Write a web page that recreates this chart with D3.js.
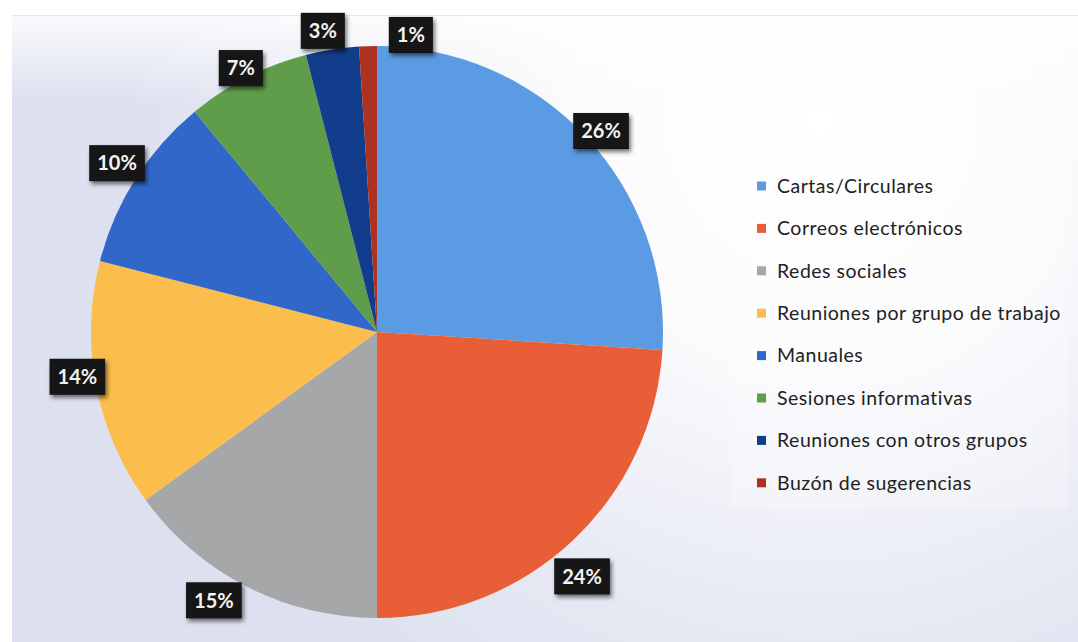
<!DOCTYPE html>
<html>
<head>
<meta charset="utf-8">
<script src="https://cdn.jsdelivr.net/npm/d3@7"></script>
<style>
  html, body { margin: 0; padding: 0; background: #ffffff; }
  svg { display: block; }
</style>
</head>
<body>
<svg id="chart" width="1078" height="642"></svg>
<script>
// Canales de comunicación (porcentaje de uso)
const categories = [
  "Cartas/Circulares",
  "Correos electrónicos",
  "Redes sociales",
  "Reuniones por grupo de trabajo",
  "Manuales",
  "Sesiones informativas",
  "Reuniones con otros grupos",
  "Buzón de sugerencias"
];
const values = [26, 24, 15, 14, 10, 7, 3, 1];
const colors = ["#5b9be3", "#e85f37", "#a5a7a9", "#fbbd4c", "#3067c8", "#5f9d4b", "#123c8c", "#ad3320"];

// Placement of each data label around its slice: angular nudge (degrees) and distance from centre
const labelAngleShift = [1.3, 3.2, 4.3, 2.3, 0.6, -0.3, -1.2, 8.3];
const labelDistance = [301, 319, 314, 303, 310, 297, 306, 299];

const W = 1078, H = 642;
const cx = 377, cy = 332, R = 286;

const svg = d3.select("#chart");
const defs = svg.append("defs");

// Panel background: lavender grey brightening towards the upper right
const bg = defs.append("radialGradient").attr("id", "panelGlow")
  .attr("gradientUnits", "userSpaceOnUse")
  .attr("cx", 820).attr("cy", 120).attr("r", 700);
bg.append("stop").attr("offset", "0%").attr("stop-color", "#ffffff");
bg.append("stop").attr("offset", "35%").attr("stop-color", "#fbfbfd");
bg.append("stop").attr("offset", "75%").attr("stop-color", "#e6e8f3");
bg.append("stop").attr("offset", "100%").attr("stop-color", "#dce0ef");

const topBand = defs.append("linearGradient").attr("id", "topBand")
  .attr("x1", 0).attr("y1", 0).attr("x2", 0).attr("y2", 1);
topBand.append("stop").attr("offset", "0%").attr("stop-color", "#ffffff").attr("stop-opacity", 0.85);
topBand.append("stop").attr("offset", "100%").attr("stop-color", "#ffffff").attr("stop-opacity", 0);

const shadow = defs.append("filter").attr("id", "labelShadow")
  .attr("x", "-30%").attr("y", "-30%").attr("width", "170%").attr("height", "170%");
shadow.append("feDropShadow").attr("dx", 2).attr("dy", 3)
  .attr("stdDeviation", 2).attr("flood-color", "#000").attr("flood-opacity", 0.55);

svg.append("rect").attr("x", 0).attr("y", 0).attr("width", W).attr("height", H).attr("fill", "#ffffff");
svg.append("rect").attr("x", 12).attr("y", 15).attr("width", W - 12).attr("height", H - 15)
  .attr("fill", "url(#panelGlow)");
svg.append("rect").attr("x", 12).attr("y", 15).attr("width", W - 12).attr("height", 90)
  .attr("fill", "url(#topBand)");
svg.append("line").attr("x1", 12).attr("x2", W).attr("y1", 15.5).attr("y2", 15.5)
  .attr("stroke", "#e6e7ec").attr("stroke-width", 1);

// Pie
const pie = d3.pie().sort(null).value(d => d.value);
const arcs = pie(categories.map((c, i) => ({ name: c, value: values[i], color: colors[i], i })));
const arc = d3.arc().innerRadius(0).outerRadius(R);

const g = svg.append("g").attr("transform", `translate(${cx},${cy})`);
g.selectAll("path.slice")
  .data(arcs)
  .join("path")
  .attr("class", "slice")
  .attr("d", arc)
  .attr("fill", d => d.data.color);

// Data labels: white bold percentages in black boxes
const total = d3.sum(values);
const labels = g.selectAll("g.lbl")
  .data(arcs)
  .join("g")
  .attr("class", "lbl")
  .attr("transform", d => {
    const mid = (d.startAngle + d.endAngle) / 2 + labelAngleShift[d.data.i] * Math.PI / 180;
    const r = labelDistance[d.data.i];
    return `translate(${r * Math.sin(mid)},${-r * Math.cos(mid)})`;
  });

labels.append("rect").attr("class", "box").attr("fill", "#121212")
  .attr("filter", "url(#labelShadow)");
labels.append("text")
  .attr("text-anchor", "middle")
  .attr("dy", "0.36em")
  .attr("font-family", "Lato, 'Open Sans', sans-serif")
  .attr("font-weight", 700)
  .attr("font-size", 20)
  .attr("fill", "#f2f2f2")
  .text(d => Math.round(d.data.value / total * 100) + "%");

labels.each(function() {
  const t = d3.select(this).select("text").node();
  const w = t.getComputedTextLength() + 16;
  const h = 36;
  d3.select(this).select("rect")
    .attr("x", -w / 2).attr("y", -h / 2).attr("width", w).attr("height", h);
});

// Legend
const legendX = 757, legendY = 186, legendStep = 42.4;
svg.append("rect")
  .attr("x", 730).attr("y", 157).attr("width", 338).attr("height", 352)
  .attr("fill", "#ffffff").attr("fill-opacity", 0.22);

const leg = svg.append("g").selectAll("g")
  .data(categories)
  .join("g")
  .attr("transform", (d, i) => `translate(${legendX},${legendY + i * legendStep})`);
leg.append("rect")
  .attr("x", 0).attr("y", -4.5).attr("width", 9).attr("height", 9)
  .attr("fill", (d, i) => colors[i]);
leg.append("text")
  .attr("x", 20).attr("dy", "0.35em")
  .attr("font-family", "Lato, 'Open Sans', sans-serif")
  .attr("font-size", 19.5)
  .attr("letter-spacing", 0.5)
  .attr("fill", "#222222")
  .text(d => d);
</script>
</body>
</html>
